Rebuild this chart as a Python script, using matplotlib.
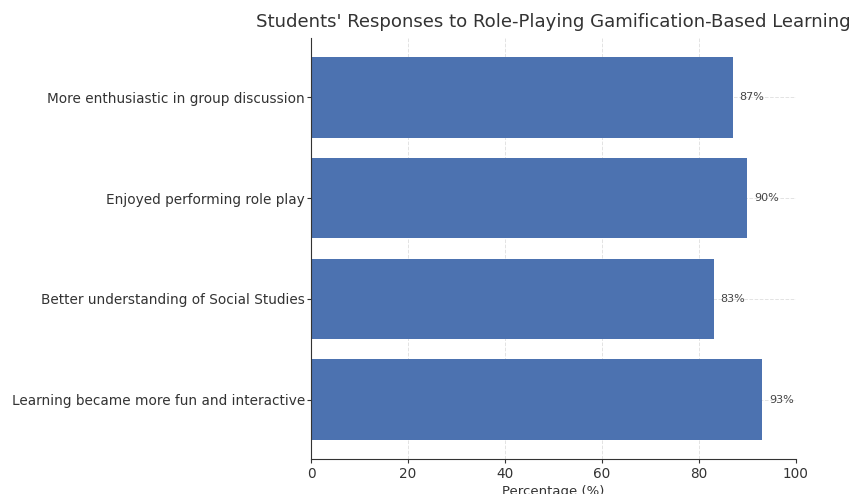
import matplotlib
matplotlib.use("Agg")
import matplotlib.pyplot as plt

categories = ["Learning became more fun and interactive",
              "Better understanding of Social Studies",
              "Enjoyed performing role play",
              "More enthusiastic in group discussion"]
values = [93, 83, 90, 87]
xticks = [0, 20, 40, 60, 80, 100]

fig = plt.figure(figsize=(8.54, 4.94), dpi=100)
ax = fig.add_axes([311/854, 1-459/494, 485/854, 421/494])
ax.set_axisbelow(True)
bars = ax.barh(categories, values, height=0.8, color="#4C72B0")
for b, v in zip(bars, values):
    ax.text(v + 1.4, b.get_y() + b.get_height()/2, f"{v}%", va="center", ha="left",
            fontsize=8, color="#444444")
ax.set_xlim(0, 100)
ax.set_xticks(xticks)
ax.grid(True, linestyle="--", color="#e3e3e3", linewidth=0.7)
for s in ["top", "right"]:
    ax.spines[s].set_visible(False)
for s in ["left", "bottom"]:
    ax.spines[s].set_color("#333333")
ax.tick_params(axis="both", labelsize=9.8, colors="#333333", labelcolor="#333333", length=3, pad=1.5)
ax.tick_params(axis="x", pad=2.5)
ax.set_xlabel("Percentage (%)", fontsize=9.5, color="#333333", labelpad=3)
ax.set_title("Students' Responses to Role-Playing Gamification-Based Learning",
             fontsize=13.1, color="#333333", pad=8)
fig.savefig("out.png", dpi=100)
